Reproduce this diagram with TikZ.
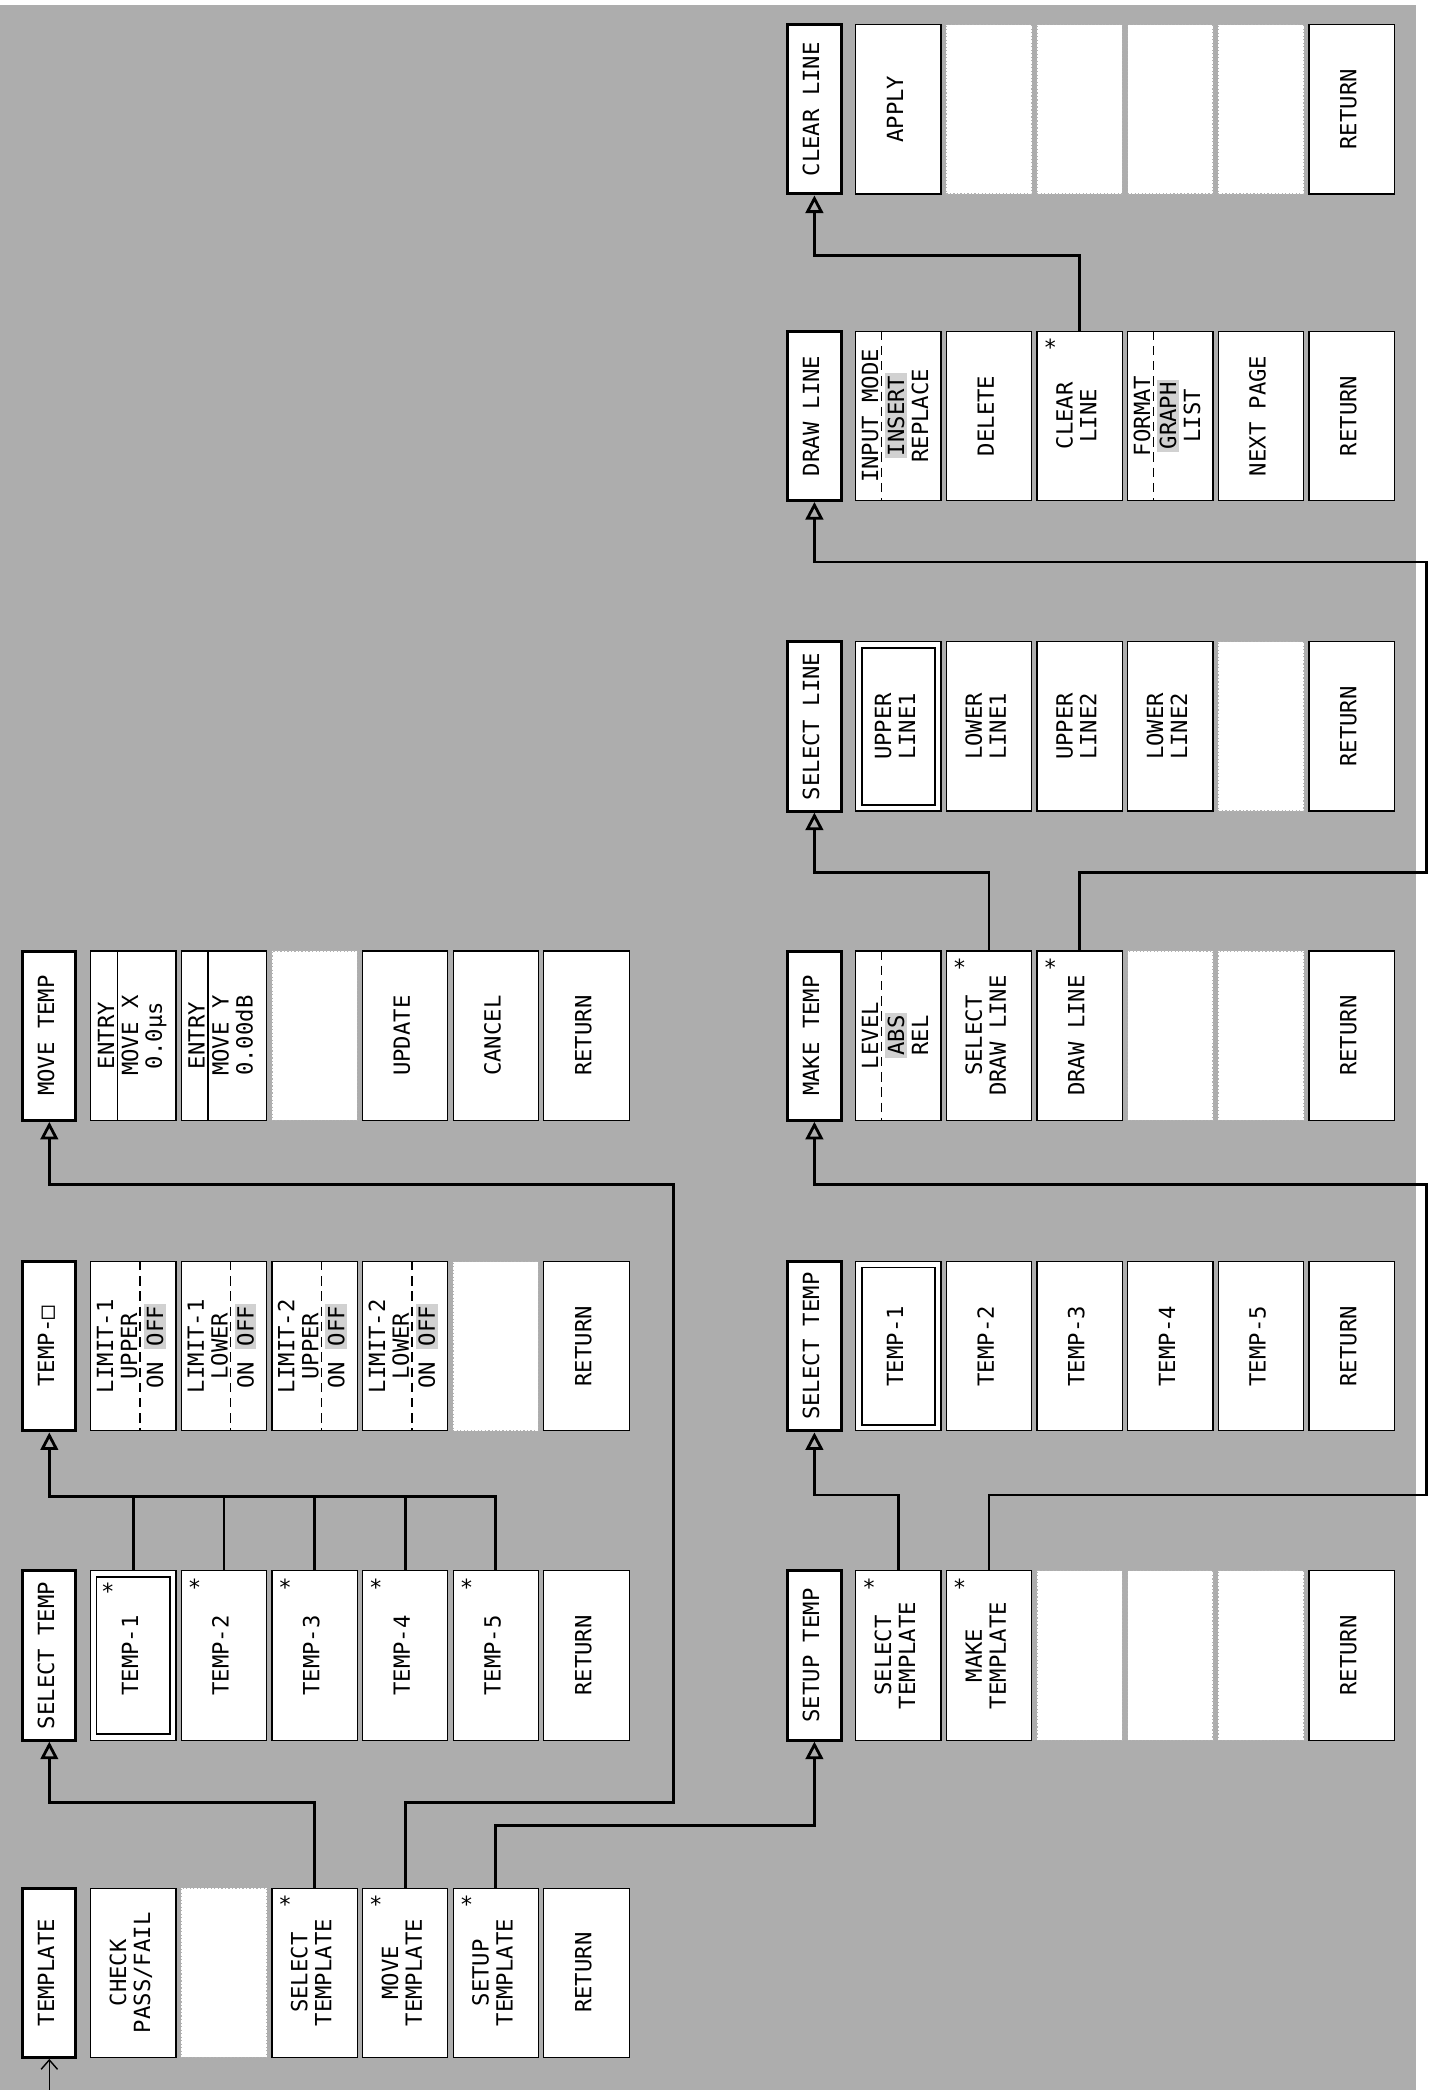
\documentclass[tikz,border=0pt]{standalone}
\usepackage{fontspec}
\setmonofont{DejaVu Sans Mono}
\usepackage{graphicx}
\usepackage{tikz}
\usetikzlibrary{arrows.meta}

\colorlet{screen}{black!32}
\colorlet{hl}{black!18}
\setlength{\fboxsep}{1pt}
\newcommand{\vtext}[1]{\rotatebox{90}{\begin{tabular}{@{}c@{}}#1\end{tabular}}}
\newcommand{\hi}[1]{\colorbox{hl}{#1}}

\begin{document}
\begin{tikzpicture}[x=0.02cm, y=-0.02cm,
    font=\ttfamily\fontsize{9.5}{10.2}\selectfont,
    head/.style={draw, line width=1.3pt, fill=white, inner sep=0pt, minimum width=0.8cm, minimum height=2.54cm},
    slot/.style={draw, line width=0.5pt, fill=white, inner sep=0pt, minimum width=1.28cm, minimum height=2.54cm},
    spare/.style={slot, draw=black!30, densely dotted},
    wire/.style={line width=1.2pt},
    conn/.style={wire, -{Triangle[open, length=7.5pt, width=7.5pt]}},
    ast/.style={inner sep=0pt, anchor=north west},
    divider/.style={line width=0.5pt},
    ddivider/.style={line width=0.6pt, dash pattern=on 4pt off 2.5pt}
  ]
  \useasboundingbox (0,0) rectangle (1077,1568);
  \fill[screen] (0,4) rectangle (1062,1568);

  % TEMPLATE menu
  \node[head]  (tp0) at (37,1480)  {\vtext{TEMPLATE}};
  \node[slot]  (tp1) at (100,1480) {\vtext{CHECK\\PASS/FAIL}};
  \node[spare] (tp2) at (168,1480) {};
  \node[slot]  (tp3) at (236,1480) {\vtext{SELECT\\TEMPLATE}};
  \node[slot]  (tp4) at (304,1480) {\vtext{MOVE\\TEMPLATE}};
  \node[slot]  (tp5) at (372,1480) {\vtext{SETUP\\TEMPLATE}};
  \node[slot]  (tp6) at (440,1480) {\vtext{RETURN}};
  \node[ast] (tp3s) at ([shift={(5,6)}]tp3.north west) {*};
  \node[ast] (tp4s) at ([shift={(5,6)}]tp4.north west) {*};
  \node[ast] (tp5s) at ([shift={(5,6)}]tp5.north west) {*};

  % SELECT TEMP (from TEMPLATE)
  \node[head] (st0) at (37,1242)  {\vtext{SELECT TEMP}};
  \node[slot] (st1) at (100,1242) {\vtext{TEMP-1}};
  \node[slot] (st2) at (168,1242) {\vtext{TEMP-2}};
  \node[slot] (st3) at (236,1242) {\vtext{TEMP-3}};
  \node[slot] (st4) at (304,1242) {\vtext{TEMP-4}};
  \node[slot] (st5) at (372,1242) {\vtext{TEMP-5}};
  \node[slot] (st6) at (440,1242) {\vtext{RETURN}};
  \draw[line width=0.6pt] ([shift={(5,5)}]st1.north west) rectangle ([shift={(-5,-5)}]st1.south east);
  \node[ast] (st1s) at ([shift={(8,9)}]st1.north west) {*};
  \node[ast] (st2s) at ([shift={(5,6)}]st2.north west) {*};
  \node[ast] (st3s) at ([shift={(5,6)}]st3.north west) {*};
  \node[ast] (st4s) at ([shift={(5,6)}]st4.north west) {*};
  \node[ast] (st5s) at ([shift={(5,6)}]st5.north west) {*};

  % TEMP-n limits
  \node[head]  (tm0) at (37,1010)  {\vtext{TEMP-□}};
  \node[slot]  (tm1) at (100,1010) {\vtext{LIMIT-1\\UPPER\\ON \hi{OFF}}};
  \node[slot]  (tm2) at (168,1010) {\vtext{LIMIT-1\\LOWER\\ON \hi{OFF}}};
  \node[slot]  (tm3) at (236,1010) {\vtext{LIMIT-2\\UPPER\\ON \hi{OFF}}};
  \node[slot]  (tm4) at (304,1010) {\vtext{LIMIT-2\\LOWER\\ON \hi{OFF}}};
  \node[spare] (tm5) at (372,1010) {};
  \node[slot]  (tm6) at (440,1010) {\vtext{RETURN}};
  \draw[ddivider] ([shift={(5,0)}]tm1.north) -- ([shift={(5,0)}]tm1.south);
  \draw[ddivider] ([shift={(5,0)}]tm2.north) -- ([shift={(5,0)}]tm2.south);
  \draw[ddivider] ([shift={(5,0)}]tm3.north) -- ([shift={(5,0)}]tm3.south);
  \draw[ddivider] ([shift={(5,0)}]tm4.north) -- ([shift={(5,0)}]tm4.south);

  % MOVE TEMP
  \node[head]  (mv0) at (37,777)  {\vtext{MOVE TEMP}};
  \node[slot]  (mv1) at (100,777) {\vtext{ENTRY\\MOVE X\\0.0μs}};
  \node[slot]  (mv2) at (168,777) {\vtext{ENTRY\\MOVE Y\\0.00dB}};
  \node[spare] (mv3) at (236,777) {};
  \node[slot]  (mv4) at (304,777) {\vtext{UPDATE}};
  \node[slot]  (mv5) at (372,777) {\vtext{CANCEL}};
  \node[slot]  (mv6) at (440,777) {\vtext{RETURN}};
  \draw[divider] ([shift={(-12,0)}]mv1.north) -- ([shift={(-12,0)}]mv1.south);
  \draw[divider] ([shift={(-12,0)}]mv2.north) -- ([shift={(-12,0)}]mv2.south);

  % SETUP TEMP
  \node[head]  (su0) at (611,1242)  {\vtext{SETUP TEMP}};
  \node[slot]  (su1) at (674,1242)  {\vtext{SELECT\\TEMPLATE}};
  \node[slot]  (su2) at (742,1242)  {\vtext{MAKE\\TEMPLATE}};
  \node[spare] (su3) at (810,1242)  {};
  \node[spare] (su4) at (878,1242)  {};
  \node[spare] (su5) at (946,1242)  {};
  \node[slot]  (su6) at (1014,1242) {\vtext{RETURN}};
  \node[ast] (su1s) at ([shift={(5,6)}]su1.north west) {*};
  \node[ast] (su2s) at ([shift={(5,6)}]su2.north west) {*};

  % SELECT TEMP (from SETUP TEMP)
  \node[head] (sr0) at (611,1010)  {\vtext{SELECT TEMP}};
  \node[slot] (sr1) at (674,1010)  {\vtext{TEMP-1}};
  \node[slot] (sr2) at (742,1010)  {\vtext{TEMP-2}};
  \node[slot] (sr3) at (810,1010)  {\vtext{TEMP-3}};
  \node[slot] (sr4) at (878,1010)  {\vtext{TEMP-4}};
  \node[slot] (sr5) at (946,1010)  {\vtext{TEMP-5}};
  \node[slot] (sr6) at (1014,1010) {\vtext{RETURN}};
  \draw[line width=0.6pt] ([shift={(5,5)}]sr1.north west) rectangle ([shift={(-5,-5)}]sr1.south east);

  % MAKE TEMP
  \node[head]  (mk0) at (611,777)  {\vtext{MAKE TEMP}};
  \node[slot]  (mk1) at (674,777)  {\vtext{LEVEL\\\hi{ABS}\\REL}};
  \node[slot]  (mk2) at (742,777)  {\vtext{SELECT\\DRAW LINE}};
  \node[slot]  (mk3) at (810,777)  {\vtext{DRAW LINE}};
  \node[spare] (mk4) at (878,777)  {};
  \node[spare] (mk5) at (946,777)  {};
  \node[slot]  (mk6) at (1014,777) {\vtext{RETURN}};
  \draw[ddivider] ([shift={(-12.5,0)}]mk1.north) -- ([shift={(-12.5,0)}]mk1.south);
  \node[ast] (mk2s) at ([shift={(5,6)}]mk2.north west) {*};
  \node[ast] (mk3s) at ([shift={(5,6)}]mk3.north west) {*};

  % SELECT LINE
  \node[head]  (sn0) at (611,545)  {\vtext{SELECT LINE}};
  \node[slot]  (sn1) at (674,545)  {\vtext{UPPER\\LINE1}};
  \node[slot]  (sn2) at (742,545)  {\vtext{LOWER\\LINE1}};
  \node[slot]  (sn3) at (810,545)  {\vtext{UPPER\\LINE2}};
  \node[slot]  (sn4) at (878,545)  {\vtext{LOWER\\LINE2}};
  \node[spare] (sn5) at (946,545)  {};
  \node[slot]  (sn6) at (1014,545) {\vtext{RETURN}};
  \draw[line width=0.6pt] ([shift={(5,5)}]sn1.north west) rectangle ([shift={(-5,-5)}]sn1.south east);

  % DRAW LINE
  \node[head] (dl0) at (611,312)  {\vtext{DRAW LINE}};
  \node[slot] (dl1) at (674,312)  {\vtext{INPUT MODE\\\hi{INSERT}\\REPLACE}};
  \node[slot] (dl2) at (742,312)  {\vtext{DELETE}};
  \node[slot] (dl3) at (810,312)  {\vtext{CLEAR\\LINE}};
  \node[slot] (dl4) at (878,312)  {\vtext{FORMAT\\\hi{GRAPH}\\LIST}};
  \node[slot] (dl5) at (946,312)  {\vtext{NEXT PAGE}};
  \node[slot] (dl6) at (1014,312) {\vtext{RETURN}};
  \draw[ddivider] ([shift={(-12.5,0)}]dl1.north) -- ([shift={(-12.5,0)}]dl1.south);
  \draw[ddivider] ([shift={(-12.5,0)}]dl4.north) -- ([shift={(-12.5,0)}]dl4.south);
  \node[ast] (dl3s) at ([shift={(5,6)}]dl3.north west) {*};

  % CLEAR LINE
  \node[head]  (cl0) at (611,82)  {\vtext{CLEAR LINE}};
  \node[slot]  (cl1) at (674,82)  {\vtext{APPLY}};
  \node[spare] (cl2) at (742,82)  {};
  \node[spare] (cl3) at (810,82)  {};
  \node[spare] (cl4) at (878,82)  {};
  \node[spare] (cl5) at (946,82)  {};
  \node[slot]  (cl6) at (1014,82) {\vtext{RETURN}};

  % connectors
  \coordinate (entry) at (37,1568);
  \draw[line width=0.6pt, -{Straight Barb[length=4pt, width=7pt]}] (entry) -- (tp0.south);
  \draw[conn] (tp3.north) -- ++(0,-63.5) -| (st0.south);
  \draw[conn] (tp4.north) -- ++(0,-63.5) -- ++(201,0) -- ++(0,-464) -| (mv0.south);
  \draw[conn] (tp5.north) -- ++(0,-46.5) -| (su0.south);
  \draw[wire] (st1.north) -- ++(0,-55.5);
  \draw[wire] (st2.north) -- ++(0,-55.5);
  \draw[wire] (st3.north) -- ++(0,-55.5);
  \draw[wire] (st4.north) -- ++(0,-55.5);
  \draw[conn] (st5.north) -- ++(0,-55.5) -| (tm0.south);
  \draw[conn] (su1.north) -- ++(0,-56.5) -| (sr0.south);
  \draw[conn] (su2.north) -- ++(0,-56.5) -- ++(328,0) -- ++(0,-233) -| (mk0.south);
  \draw[conn] (mk2.north) -- ++(0,-58.5) -| (sn0.south);
  \draw[conn] (mk3.north) -- ++(0,-58.5) -- ++(260,0) -- ++(0,-233) -| (dl0.south);
  \draw[conn] (dl3.north) -- ++(0,-56.5) -| (cl0.south);
\end{tikzpicture}
\end{document}
